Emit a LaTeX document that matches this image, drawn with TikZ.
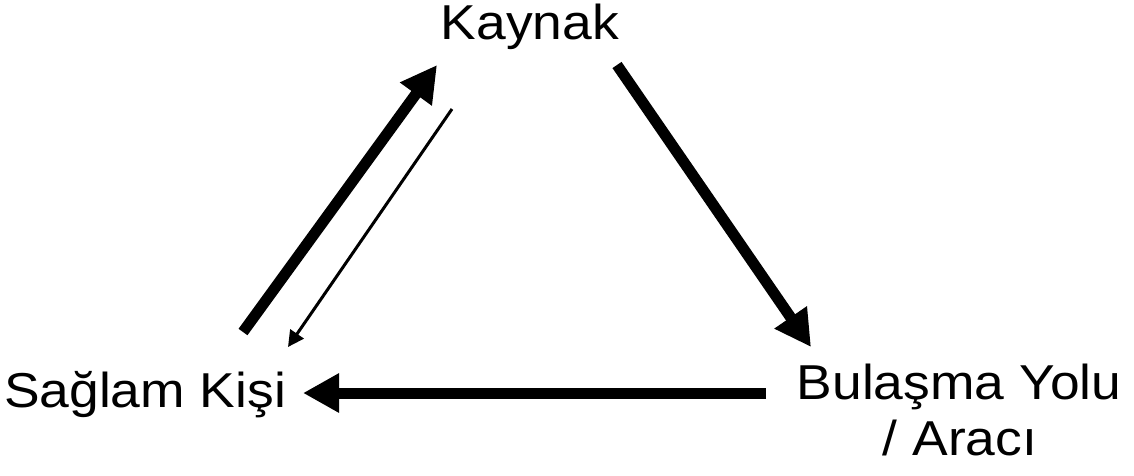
\documentclass[tikz,border=0pt]{standalone}
\usepackage{fontspec}
\setmainfont{Liberation Sans}
\usetikzlibrary{arrows.meta}
\begin{document}
\begin{tikzpicture}[x=1pt,y=-1pt,
  lbl/.style={inner sep=0pt, anchor=base, font=\fontsize{49}{56}\selectfont, xscale=1.09, transform shape},
  thick arrow/.style={line width=11pt, -{Triangle[length=36pt,width=37pt]}},
  thin arrow/.style={line width=3pt, -{Triangle[length=16pt,width=16pt]}}]
\useasboundingbox (0,0) rectangle (1134,475);
\node[lbl] (kaynak) at (530,39) {Kaynak};
\node[lbl] (saglam) at (145,407) {Sağlam Kişi};
\node[lbl] (bulasma) at (959,399) {Bulaşma Yolu};
\node[lbl] (araci) at (960,455) {/ Aracı};
\coordinate (a1s) at (617,65);
\coordinate (a1e) at (811,347);
\coordinate (a2s) at (766,393);
\coordinate (a2e) at (303,393);
\coordinate (a3s) at (243,332);
\coordinate (a3e) at (437,65);
\coordinate (a4s) at (452,109);
\coordinate (a4e) at (288,347);
\draw[thick arrow] (a1s) -- (a1e);
\draw[thick arrow] (a2s) -- (a2e);
\draw[thick arrow] (a3s) -- (a3e);
\draw[thin arrow] (a4s) -- (a4e);
\end{tikzpicture}
\end{document}
